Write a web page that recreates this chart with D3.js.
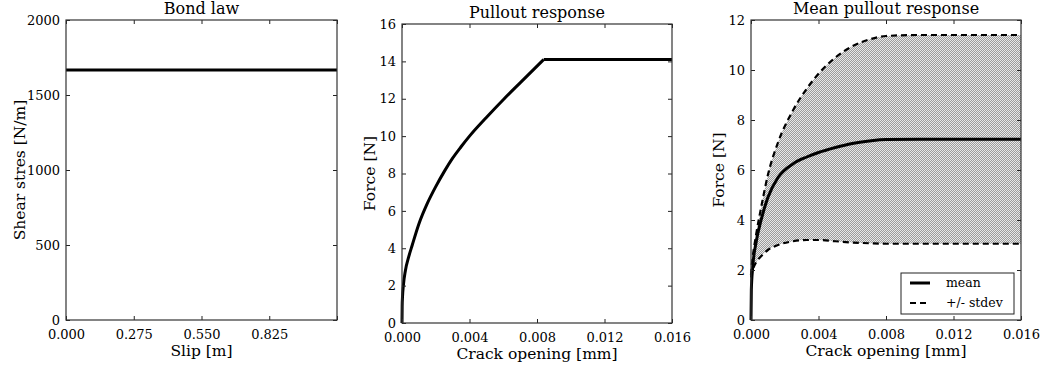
<!DOCTYPE html>
<html>
<head>
<meta charset="utf-8">
<script src="https://cdn.jsdelivr.net/npm/d3@7"></script>
<style>
  body { margin: 0; background: #fff; }
  svg text { font-family: "DejaVu Serif", serif; fill: #000; }
</style>
</head>
<body>
<div id="chart"></div>
<script>
"use strict";

var FONT = "'DejaVu Serif', serif";

// == data ==
var bondSlip = [0, 1.1];
var bondStress = [1666, 1666];
var bondSlipTicks = [0, 0.275, 0.55, 0.825, 1.1];
var bondStressTicks = [0, 500, 1000, 1500, 2000];

var pullW = [0, 0.00001, 0.00003, 0.00008, 0.0002, 0.0004, 0.0006, 0.001, 0.0015, 0.002, 0.0025, 0.003, 0.0035, 0.004, 0.005, 0.006, 0.007, 0.0084, 0.016];
var pullF = [0, 0.9, 1.4, 2.0, 2.8, 3.55, 4.15, 5.3, 6.4, 7.3, 8.1, 8.82, 9.43, 10.0, 11.0, 11.95, 12.85, 14.1, 14.1];
var forceTicks16 = [0, 2, 4, 6, 8, 10, 12, 14, 16];
var openingTicks = [0, 0.004, 0.008, 0.012, 0.016];

var meanW = [0, 0.00002, 0.0001, 0.0003, 0.0006, 0.001, 0.0016, 0.0025, 0.0033, 0.004, 0.005, 0.006, 0.007, 0.008, 0.010, 0.016];
var meanF = [0, 1.2, 2.1, 3.1, 4.0, 4.9, 5.7, 6.25, 6.52, 6.7, 6.9, 7.06, 7.16, 7.22, 7.23, 7.23];
var upperF = [1.8, 2.0, 2.5, 3.4, 4.5, 5.8, 7.1, 8.4, 9.25, 9.85, 10.5, 10.95, 11.22, 11.36, 11.4, 11.4];
var lowerF = [1.7, 1.8, 2.0, 2.3, 2.55, 2.8, 3.0, 3.15, 3.2, 3.2, 3.15, 3.1, 3.07, 3.05, 3.05, 3.05];
var forceTicks12 = [0, 2, 4, 6, 8, 10, 12];

var legendLabels = ["mean", "+/- stdev"];

var svg = d3.select("#chart").append("svg")
  .attr("width", 1052)
  .attr("height", 371)
  .attr("font-family", FONT);

// checkerboard fill like the dithered grey in the picture
var pat = svg.append("defs").append("pattern")
  .attr("id", "dots")
  .attr("patternUnits", "userSpaceOnUse")
  .attr("width", 2).attr("height", 2);
pat.append("rect").attr("width", 2).attr("height", 2).attr("fill", "#e8e8e8");
pat.append("rect").attr("width", 1).attr("height", 1).attr("fill", "#9c9c9c").attr("shape-rendering", "crispEdges");
pat.append("rect").attr("x", 1).attr("y", 1).attr("width", 1).attr("height", 1).attr("fill", "#9c9c9c").attr("shape-rendering", "crispEdges");

// == build one panel: frame, inside ticks on all sides, labels ==
var panel = function(opt) {
  var w = opt.right - opt.left, h = opt.bottom - opt.top;
  var g = svg.append("g").attr("transform", "translate(" + opt.left + "," + opt.top + ")");
  var x = d3.scaleLinear().domain(opt.xDomain).range([0, w]);
  var y = d3.scaleLinear().domain(opt.yDomain).range([h, 0]);

  var body = g.append("g");

  var tickLen = 4;
  var fmtX = opt.xFormat, fmtY = opt.yFormat;

  var xb = g.append("g").attr("transform", "translate(0," + h + ")")
    .call(d3.axisBottom(x).tickValues(opt.xTicks).tickSizeInner(-tickLen).tickSizeOuter(0)
      .tickPadding(10).tickFormat(function (d) { return opt.xLabelTicks.indexOf(d) >= 0 ? fmtX(d) : ""; }));
  var xt = g.append("g")
    .call(d3.axisTop(x).tickValues(opt.xTicks).tickSizeInner(-tickLen).tickSizeOuter(0).tickFormat(""));
  var yl = g.append("g")
    .call(d3.axisLeft(y).tickValues(opt.yTicks).tickSizeInner(-tickLen).tickSizeOuter(0)
      .tickPadding(6).tickFormat(fmtY));
  var yr = g.append("g").attr("transform", "translate(" + w + ",0)")
    .call(d3.axisRight(y).tickValues(opt.yTicks).tickSizeInner(-tickLen).tickSizeOuter(0).tickFormat(""));

  [xb, xt, yl, yr].forEach(function (a) {
    a.attr("font-family", FONT);
    a.select(".domain").remove();
    a.selectAll("line").attr("stroke", "#222");
    a.selectAll("text").style("font-family", FONT).style("font-size", "13px").attr("fill", "#000");
  });

  g.append("rect")
    .attr("width", w).attr("height", h)
    .attr("fill", "none").attr("stroke", "#333").attr("stroke-width", 1.2);

  g.append("text")
    .attr("x", w / 2).attr("y", -6)
    .attr("text-anchor", "middle")
    .style("font-size", "16px")
    .text(opt.title);

  g.append("text")
    .attr("x", w / 2).attr("y", h + 36)
    .attr("text-anchor", "middle")
    .style("font-size", "15.5px")
    .text(opt.xLabel);

  g.append("text")
    .attr("transform", "translate(" + opt.yLabelX + "," + (h / 2) + ") rotate(-90)")
    .attr("text-anchor", "middle")
    .style("font-size", "15.5px")
    .text(opt.yLabel);

  return { g: body, x: x, y: y };
};

// == panel 1: bond law ==
var p1 = panel({
  left: 66, right: 337, top: 20, bottom: 320,
  xDomain: [0, 1.1], yDomain: [0, 2000],
  xTicks: bondSlipTicks, xLabelTicks: [0, 0.275, 0.55, 0.825],
  yTicks: bondStressTicks,
  xFormat: d3.format(".3f"), yFormat: d3.format("d"),
  title: "Bond law", xLabel: "Slip [m]", yLabel: "Shear stres [N/m]", yLabelX: -41
});
p1.g.append("path")
  .datum(d3.zip(bondSlip, bondStress))
  .attr("fill", "none").attr("stroke", "#000").attr("stroke-width", 3)
  .attr("d", d3.line().x(function (d) { return p1.x(d[0]); }).y(function (d) { return p1.y(d[1]); }));

// == panel 2: pullout response ==
var p2 = panel({
  left: 402, right: 672, top: 24, bottom: 323,
  xDomain: [0, 0.016], yDomain: [0, 16],
  xTicks: openingTicks, xLabelTicks: openingTicks,
  yTicks: forceTicks16,
  xFormat: d3.format(".3f"), yFormat: d3.format("d"),
  title: "Pullout response", xLabel: "Crack opening [mm]", yLabel: "Force [N]", yLabelX: -27
});
// rising branch smooth, plateau straight
var kink = pullF.indexOf(d3.max(pullF));
var pullPts = d3.zip(pullW, pullF);
p2.g.append("path")
  .datum(pullPts.slice(0, kink + 1))
  .attr("fill", "none").attr("stroke", "#000").attr("stroke-width", 3)
  .attr("d", d3.line().curve(d3.curveMonotoneX)
    .x(function (d) { return p2.x(d[0]); }).y(function (d) { return p2.y(d[1]); }));
p2.g.append("path")
  .datum(pullPts.slice(kink))
  .attr("fill", "none").attr("stroke", "#000").attr("stroke-width", 3)
  .attr("d", d3.line()
    .x(function (d) { return p2.x(d[0]); }).y(function (d) { return p2.y(d[1]); }));

// == panel 3: mean pullout response ==
var p3 = panel({
  left: 751, right: 1021, top: 20, bottom: 320,
  xDomain: [0, 0.016], yDomain: [0, 12],
  xTicks: openingTicks, xLabelTicks: openingTicks,
  yTicks: forceTicks12,
  xFormat: d3.format(".3f"), yFormat: d3.format("d"),
  title: "Mean pullout response", xLabel: "Crack opening [mm]", yLabel: "Force [N]", yLabelX: -27
});
var band = meanW.map(function (w, i) { return { w: w, lo: lowerF[i], hi: upperF[i], m: meanF[i] }; });

p3.g.append("path")
  .datum(band)
  .attr("fill", "url(#dots)").attr("stroke", "none")
  .attr("d", d3.area().curve(d3.curveMonotoneX)
    .x(function (d) { return p3.x(d.w); })
    .y0(function (d) { return p3.y(d.lo); })
    .y1(function (d) { return p3.y(d.hi); }));

["hi", "lo"].forEach(function (k) {
  p3.g.append("path")
    .datum(band)
    .attr("fill", "none").attr("stroke", "#000").attr("stroke-width", 2.2)
    .attr("stroke-dasharray", "6,4")
    .attr("d", d3.line().curve(d3.curveMonotoneX)
      .x(function (d) { return p3.x(d.w); }).y(function (d) { return p3.y(d[k]); }));
});

p3.g.append("path")
  .datum(band)
  .attr("fill", "none").attr("stroke", "#000").attr("stroke-width", 3)
  .attr("d", d3.line().curve(d3.curveMonotoneX)
    .x(function (d) { return p3.x(d.w); }).y(function (d) { return p3.y(d.m); }));

// == legend ==
var leg = p3.g.append("g").attr("transform", "translate(150,253)");
leg.append("rect")
  .attr("width", 113).attr("height", 41)
  .attr("fill", "#fff").attr("stroke", "#222").attr("stroke-width", 1);
legendLabels.forEach(function (lab, i) {
  var yy = 10 + i * 20;
  leg.append("line")
    .attr("x1", 9).attr("x2", 29).attr("y1", yy).attr("y2", yy)
    .attr("stroke", "#000").attr("stroke-width", i === 0 ? 3 : 2.2)
    .attr("stroke-dasharray", i === 0 ? null : "6,4");
  leg.append("text")
    .attr("x", 45).attr("y", yy + 4)
    .style("font-size", "12.5px")
    .text(lab);
});
</script>
</body>
</html>
